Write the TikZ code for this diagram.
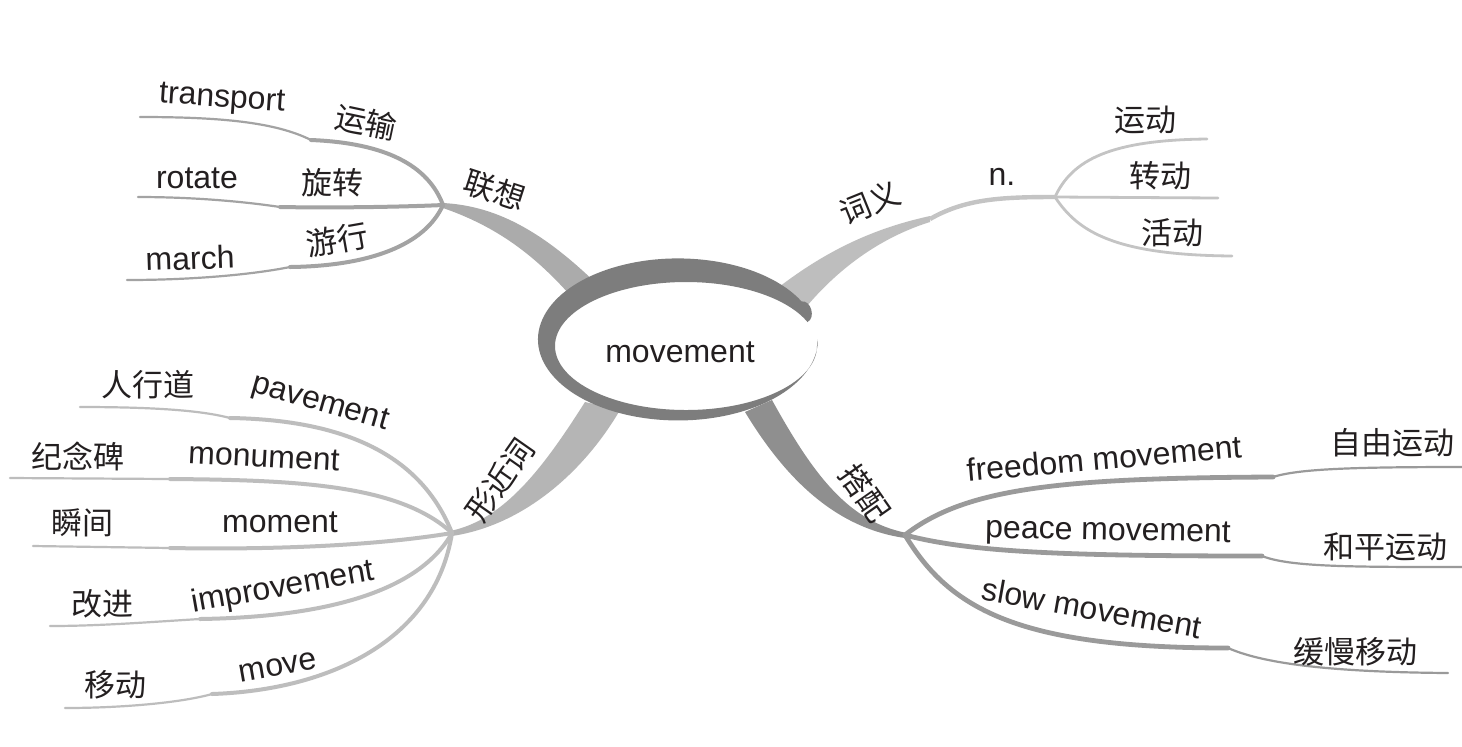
\documentclass[tikz,border=0pt]{standalone}
\usepackage{fontspec}
\setmainfont{Liberation Sans}
\newfontfamily\cjk{Noto Sans CJK SC}
\definecolor{txt}{HTML}{231F20}
\definecolor{ringc}{HTML}{7D7D7D}
\definecolor{brA}{HTML}{ABABAB}
\definecolor{subA}{HTML}{A3A3A3}
\definecolor{brB}{HTML}{BEBEBE}
\definecolor{subB}{HTML}{C4C4C4}
\definecolor{brC}{HTML}{B5B5B5}
\definecolor{subC}{HTML}{BDBDBD}
\definecolor{brD}{HTML}{8F8F8F}
\definecolor{subD}{HTML}{9A9A9A}
\begin{document}
\begin{tikzpicture}[x=0.5pt,y=-0.5pt,
  lab/.style={font=\fontsize{16}{18}\selectfont, text=txt, inner sep=0pt},
  zh/.style={font=\cjk\fontsize{15.5}{18}\selectfont, text=txt, inner sep=0pt},
  seginner/.style={line width=2pt, line cap=round},
  seginnerD/.style={line width=2.4pt, line cap=round},
  segouter/.style={line width=1.1pt, line cap=round},
  segthin/.style={line width=1.4pt, line cap=round}]
\useasboundingbox (0,0) rectangle (1462,746);
\fill[white] (0,0) rectangle (1462,746);

% ---------- coordinates ----------
\coordinate (hA) at (443,205);
\coordinate (kA1) at (311,140); \coordinate (eA1) at (140,117);
\coordinate (kA2) at (280,207); \coordinate (eA2) at (138,197);
\coordinate (kA3) at (290,267); \coordinate (eA3) at (127,280);
\coordinate (kB) at (930,219);  \coordinate (hB) at (1055,197);
\coordinate (eB1) at (1207,139); \coordinate (eB2) at (1218,198); \coordinate (eB3) at (1232,256);
\coordinate (hC) at (452,533);
\coordinate (kC1) at (230,418); \coordinate (eC1) at (80,407);
\coordinate (kC2) at (170,479); \coordinate (eC2) at (10,478);
\coordinate (kC3) at (170,548); \coordinate (eC3) at (33,546);
\coordinate (kC4) at (200,619); \coordinate (eC4) at (50,626);
\coordinate (kC5) at (212,694); \coordinate (eC5) at (65,708);
\coordinate (hD) at (905,535);
\coordinate (kD1) at (1273,477); \coordinate (eD1) at (1462,467);
\coordinate (kD2) at (1262,556); \coordinate (eD2) at (1462,567);
\coordinate (kD3) at (1228,648); \coordinate (eD3) at (1448,673);

% ---------- main branches ----------
\fill[brA] (443,203) .. controls (500,206) and (548,235) .. (605,292) -- (576,302) .. controls (535,254) and (495,226) .. (443,208) -- cycle;
\fill[brB] (770,294) .. controls (825,250) and (875,228) .. (930,216) -- (930,222) .. controls (885,236) and (840,265) .. (802,312) -- cycle;
\draw[subB, line width=2.2pt] (kB) .. controls (965,199) and (1000,197) .. (hB);
\fill[brC] (585,402) .. controls (545,465) and (505,520) .. (450,531) -- (452,536) .. controls (525,525) and (585,470) .. (620,410) -- cycle;
\fill[brD] (772,400) .. controls (815,478) and (850,522) .. (907,533) -- (905,538) .. controls (835,528) and (785,478) .. (745,412) -- cycle;

% ---------- sub branches A ----------
\draw[subA, seginner] (hA) .. controls (428,165) and (385,143) .. (kA1);
\draw[subA, segouter] (kA1) .. controls (275,122) and (220,117) .. (eA1);
\draw[subA, seginner] (hA) .. controls (400,207) and (330,208) .. (kA2);
\draw[subA, segouter] (kA2) .. controls (240,201) and (190,197) .. (eA2);
\draw[subA, seginner] (hA) .. controls (425,245) and (370,266) .. (kA3);
\draw[subA, segouter] (kA3) .. controls (250,275) and (190,280) .. (eA3);

% ---------- sub branches B ----------
\draw[subB, segthin] (hB) .. controls (1072,160) and (1110,140) .. (eB1);
\draw[subB, segthin] (hB) -- (eB2);
\draw[subB, segthin] (hB) .. controls (1078,232) and (1115,255) .. (eB3);

% ---------- sub branches C ----------
\draw[subC, seginner] (hC) .. controls (425,465) and (360,420) .. (kC1);
\draw[subC, segouter] (kC1) .. controls (200,410) and (150,407) .. (eC1);
\draw[subC, seginner] (hC) .. controls (400,485) and (300,480) .. (kC2);
\draw[subC, segouter] (kC2) -- (eC2);
\draw[subC, seginner] (hC) .. controls (380,545) and (280,550) .. (kC3);
\draw[subC, segouter] (kC3) -- (eC3);
\draw[subC, seginner] (hC) .. controls (420,590) and (330,617) .. (kC4);
\draw[subC, segouter] (kC4) .. controls (150,622) and (100,626) .. (eC4);
\draw[subC, seginner] (hC) .. controls (435,640) and (330,690) .. (kC5);
\draw[subC, segouter] (kC5) .. controls (180,703) and (120,708) .. (eC5);

% ---------- sub branches D ----------
\draw[subD, seginnerD] (hD) .. controls (965,488) and (1060,478) .. (kD1);
\draw[subD, segouter] (kD1) .. controls (1298,469) and (1350,467) .. (eD1);
\draw[subD, seginnerD] (hD) .. controls (970,552) and (1060,556) .. (kD2);
\draw[subD, segouter] (kD2) .. controls (1290,567) and (1350,567) .. (eD2);
\draw[subD, seginnerD] (hD) .. controls (950,610) and (1020,648) .. (kD3);
\draw[subD, segouter] (kD3) .. controls (1260,662) and (1320,672) .. (eD3);

% ---------- central ellipse ----------
\fill[white] (686,346) ellipse[x radius=131, y radius=64];
\fill[ringc] (801.6,301.4) arc[start angle=-28, end angle=-360, x radius=140, y radius=81]
  -- (817,346) arc[start angle=-360, end angle=-22, x radius=131, y radius=64]
  .. controls (816,318) and (811,300) .. (801.6,301.4) -- cycle;
\node[lab] (ctr) at (680,352) {movement};

% ---------- labels ----------
\node[zh, rotate=-18] (tA) at (495,190) {联想};
\node[lab, rotate=-4] (tA1) at (222,100) {transport};
\node[zh, rotate=-12] (zA1) at (366,122) {运输};
\node[lab] (tA2) at (197,178) {rotate};
\node[zh] (zA2) at (332,183) {旋转};
\node[lab, rotate=2] (tA3) at (190,258) {march};
\node[zh, rotate=10] (zA3) at (337,240) {游行};

\node[zh, rotate=22] (tB) at (870,203) {词义};
\node[lab] (nB) at (1002,177) {n.};
\node[zh] (zB1) at (1145,120) {运动};
\node[zh] (zB2) at (1160,176) {转动};
\node[zh] (zB3) at (1172,233) {活动};

\node[zh, rotate=55] (tC) at (500,480) {形近词};
\node[zh] (zC1) at (148,385) {人行道};
\node[lab, rotate=-16] (tC1) at (320,404) {pavement};
\node[zh] (zC2) at (78,456) {纪念碑};
\node[lab, rotate=-3] (tC2) at (264,457) {monument};
\node[zh] (zC3) at (82,523) {瞬间};
\node[lab] (tC3) at (280,522) {moment};
\node[zh] (zC4) at (102,604) {改进};
\node[lab, rotate=10] (tC4) at (283,588) {improvement};
\node[zh] (zC5) at (115,685) {移动};
\node[lab, rotate=10] (tC5) at (278,667) {move};

\node[zh, rotate=-55] (tD) at (865,493) {搭配};
\node[lab, rotate=5] (tD1) at (1104,458) {freedom movement};
\node[zh] (zD1) at (1392,443) {自由运动};
\node[lab, rotate=-1] (tD2) at (1108,533) {peace movement};
\node[zh] (zD2) at (1385,547) {和平运动};
\node[lab, rotate=-10] (tD3) at (1092,608) {slow movement};
\node[zh] (zD3) at (1355,652) {缓慢移动};
\end{tikzpicture}
\end{document}
